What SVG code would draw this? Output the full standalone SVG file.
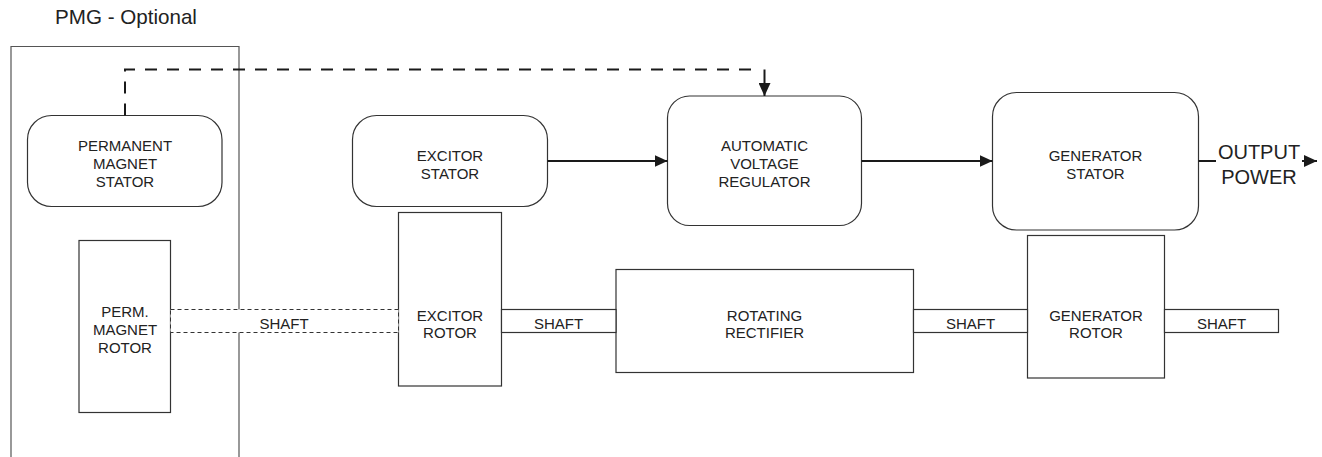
<svg xmlns="http://www.w3.org/2000/svg" width="1322" height="457" viewBox="0 0 1322 457">
  <style>
    .box { fill: #fff; stroke: #333; stroke-width: 1.2; }
    .frame { fill: none; stroke: #555; stroke-width: 1.2; }
    .lbl { font-family: "Liberation Sans", Arial, sans-serif; font-size: 15px; fill: #222; text-anchor: middle; }
    .big { font-family: "Liberation Sans", Arial, sans-serif; font-size: 20px; fill: #222; }
    .wire { fill: none; stroke: #1a1a1a; stroke-width: 2; }
    .dash { fill: none; stroke: #1a1a1a; stroke-width: 2; stroke-dasharray: 12 10; }
    .shaft-d { fill: #fff; stroke: #333; stroke-width: 1; stroke-dasharray: 4 3; }
  </style>
  <defs>
    <marker id="arrow" markerUnits="userSpaceOnUse" markerWidth="14" markerHeight="12" refX="13" refY="6" orient="auto">
      <path d="M0,0 L13,6 L0,12 Z" fill="#1a1a1a"/>
    </marker>
  </defs>
  <rect width="1322" height="457" fill="#fff"/>

  <!-- optional permanent magnet generator enclosure -->
  <g id="pmg">
    <text class="big" x="55" y="24" style="font-size:20.6px">PMG - Optional</text>
    <path class="frame" d="M11,457 V46.5 H239 V457"/>
  </g>

  <g id="pm-stator">
    <rect class="box" x="27.5" y="115.5" width="194.5" height="91" rx="24"/>
    <text class="lbl" x="125" y="151">PERMANENT</text>
    <text class="lbl" x="125" y="169">MAGNET</text>
    <text class="lbl" x="125" y="187">STATOR</text>
  </g>

  <g id="pm-rotor">
    <rect class="box" x="79" y="240.5" width="91.5" height="172"/>
    <text class="lbl" x="125" y="317">PERM.</text>
    <text class="lbl" x="125" y="335">MAGNET</text>
    <text class="lbl" x="125" y="353">ROTOR</text>
  </g>

  <g id="excitor-stator">
    <rect class="box" x="352.5" y="115.5" width="195" height="91" rx="24"/>
    <text class="lbl" x="450" y="161">EXCITOR</text>
    <text class="lbl" x="450" y="178.5">STATOR</text>
  </g>

  <g id="excitor-rotor">
    <rect class="box" x="398.5" y="212.5" width="103" height="173.5"/>
    <text class="lbl" x="450" y="320.5">EXCITOR</text>
    <text class="lbl" x="450" y="338">ROTOR</text>
  </g>

  <g id="avr">
    <rect class="box" x="667.5" y="96" width="194" height="129.5" rx="22"/>
    <text class="lbl" x="764.5" y="151">AUTOMATIC</text>
    <text class="lbl" x="764.5" y="169">VOLTAGE</text>
    <text class="lbl" x="764.5" y="187">REGULATOR</text>
  </g>

  <g id="rotating-rectifier">
    <rect class="box" x="616" y="269.5" width="297.5" height="103"/>
    <text class="lbl" x="764.5" y="320.5">ROTATING</text>
    <text class="lbl" x="764.5" y="338">RECTIFIER</text>
  </g>

  <g id="generator-stator">
    <rect class="box" x="992.5" y="92.5" width="206" height="137.5" rx="24"/>
    <text class="lbl" x="1095.5" y="161">GENERATOR</text>
    <text class="lbl" x="1095.5" y="178.5">STATOR</text>
  </g>

  <g id="generator-rotor">
    <rect class="box" x="1027.5" y="235.5" width="137" height="142.5"/>
    <text class="lbl" x="1096" y="320.5">GENERATOR</text>
    <text class="lbl" x="1096" y="338">ROTOR</text>
  </g>

  <!-- shaft sections between rotating parts -->
  <g id="shafts">
    <rect class="shaft-d" x="170.5" y="309.5" width="228" height="23"/>
    <text class="lbl" x="284" y="328.5">SHAFT</text>
    <rect class="box" x="501.5" y="309.5" width="114.5" height="23"/>
    <text class="lbl" x="558.5" y="328.5">SHAFT</text>
    <rect class="box" x="913.5" y="309.5" width="114" height="23"/>
    <text class="lbl" x="970.5" y="328.5">SHAFT</text>
    <rect class="box" x="1164.5" y="309.5" width="114" height="23"/>
    <text class="lbl" x="1221.5" y="328.5">SHAFT</text>
  </g>

  <g id="connectors">
    <path class="dash" d="M125,115.5 V69.5 H760"/>
    <line class="wire" x1="764.5" y1="69.5" x2="764.5" y2="96" marker-end="url(#arrow)"/>
    <line class="wire" x1="547.5" y1="161" x2="667.5" y2="161" marker-end="url(#arrow)"/>
    <line class="wire" x1="861.5" y1="161" x2="992.5" y2="161" marker-end="url(#arrow)"/>
    <line class="wire" x1="1198.5" y1="161" x2="1216" y2="161"/>
    <line class="wire" x1="1302" y1="161" x2="1317" y2="161" marker-end="url(#arrow)"/>
  </g>

  <g id="output-label">
    <text class="big" x="1259" y="159" text-anchor="middle">OUTPUT</text>
    <text class="big" x="1259" y="184" text-anchor="middle">POWER</text>
  </g>
</svg>
